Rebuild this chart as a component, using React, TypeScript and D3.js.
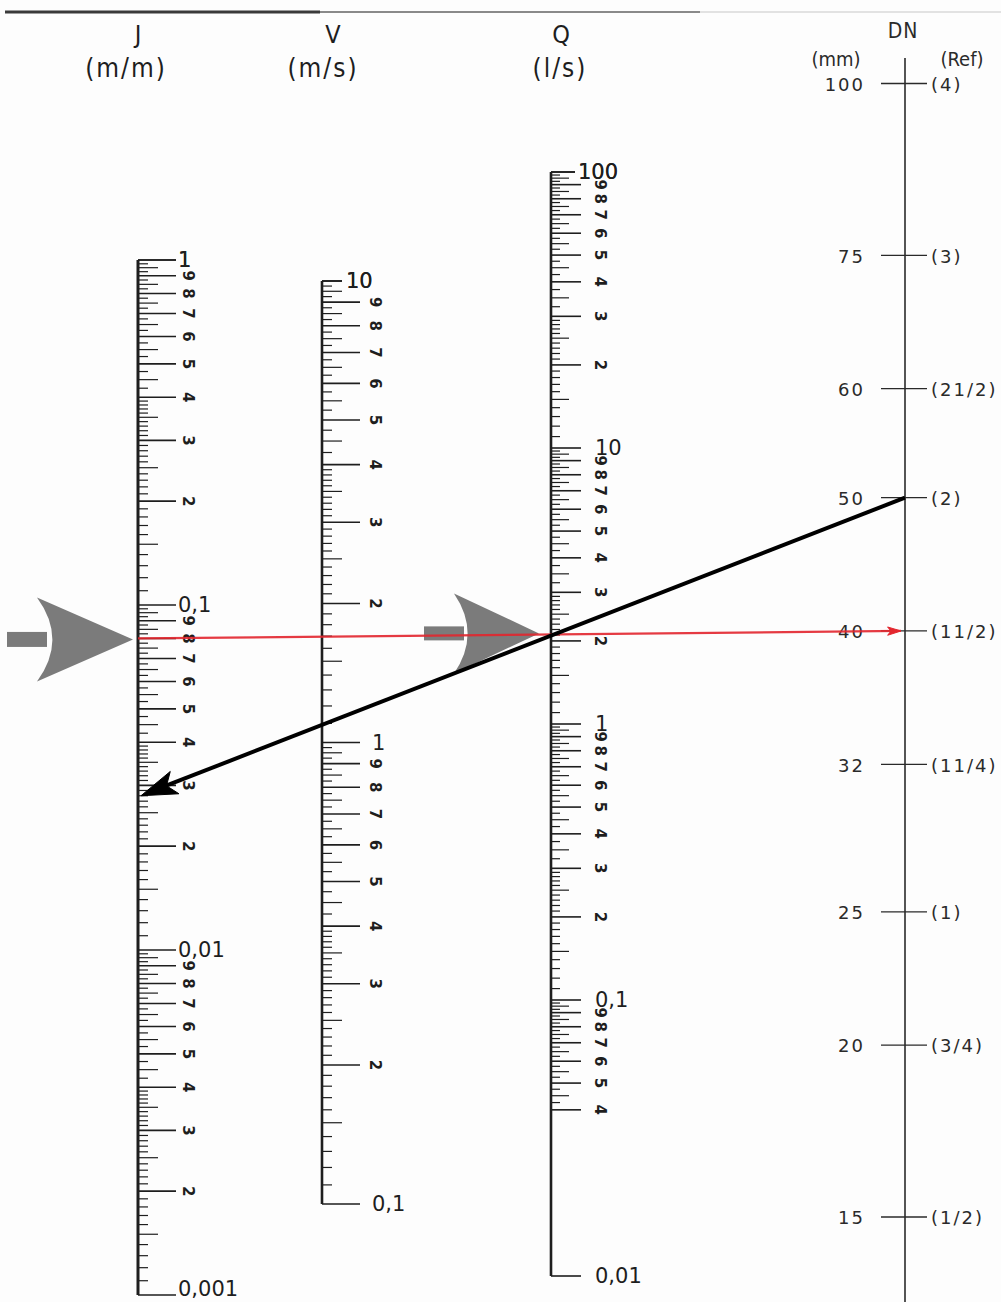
import React from "react";
import * as d3 from "d3";

const W = 1001;
const H = 1302;

// scale domains (top value first)
const J_DOMAIN = [1, 0.001];
const V_DOMAIN = [10, 0.1];
const Q_DOMAIN = [100, 0.01];
const Q_TICK_START = 0.04;

// mantissa steps inside each decade: [from, to, step]
const J_STEPS = [[1, 4, 0.1], [4, 10, 0.25]];
const V_STEPS = [[1, 4, 0.1], [4, 10, 0.25]];
const Q_STEPS = [[1, 3, 0.1], [3, 10, 0.25]];

// pipe diameter scale
const DN_MM = [100, 75, 60, 50, 40, 32, 25, 20, 15];
const DN_REF = ["(4)", "(3)", "(21/2)", "(2)", "(11/2)", "(11/4)", "(1)", "(3/4)", "(1/2)"];

// worked example: red = J 0,08 -> DN 40 ; black = DN 50 -> J 0,028
const EXAMPLE_J = [0.08, 0.028];
const EXAMPLE_DN = [40, 50];

const HEADERS = ["J", "V", "Q"];
const UNITS = ["(m/m)", "(m/s)", "(l/s)"];

const FONT_HEAD = "'Liberation Sans Narrow', 'DejaVu Sans Condensed', 'Roboto', sans-serif";
const FONT_NUM = "'DejaVu Sans', 'Open Sans', sans-serif";
const INK = "#1e1e1e";

// positions
const jX = 138;
const vX = 322;
const qX = 551;
const dnX = 905;

const jScale = d3.scaleLog().domain(J_DOMAIN).range([260, 1295]);
const vScale = d3.scaleLog().domain(V_DOMAIN).range([281, 1204]);
const qScale = d3.scaleLog().domain(Q_DOMAIN).range([172, 1276]);
const dnScale = d3.scaleLog().domain([100, 15]).range([83.5, 1217]);

type Tick = { v: number; m: number };

function buildTicks(lo: number, hi: number, steps: number[][]): Tick[] {
  const ms = new Set<number>();
  steps.forEach(([a, b, s]) => {
    for (let m = a; m < b - 1e-9; m += s) ms.add(Math.round(m * 100) / 100);
  });
  for (let k = 1; k < 10; k++) {
    ms.add(k);
    ms.add(k + 0.5);
  }
  const mant = Array.from(ms).sort((a, b) => a - b);
  const out: Tick[] = [];
  for (let e = Math.floor(Math.log10(lo) + 1e-9); Math.pow(10, e) < hi * 1.0001; e++) {
    const d = Math.pow(10, e);
    mant.forEach((m) => {
      const v = +(m * d).toPrecision(6);
      if (v >= lo * 0.9999 && v <= hi * 1.0001) out.push({ v, m });
    });
  }
  out.push({ v: hi, m: 1 });
  return out;
}

function decadeText(v: number) {
  return String(v).replace(".", ",");
}

type AxisProps = {
  x: number;
  scale: d3.ScaleLogarithmic<number, number>;
  ticks: Tick[];
  lens: { major: number; mid: number; minor: number };
  digitDx: number;
  decadeDx: number;
  topLen?: number;
  topDx?: number;
  width: number;
};

function LogAxis({ x, scale, ticks, lens, digitDx, decadeDx, topLen, topDx, width }: AxisProps) {
  const [top, bottom] = scale.range();
  const [topV, botV] = scale.domain();
  return (
    <g>
      <line x1={x} x2={x} y1={top} y2={bottom} stroke={INK} strokeWidth={width} />
      {ticks.map((t, i) => {
        const y = scale(t.v);
        const isTop = Math.abs(t.v - topV) < 1e-9;
        let len = lens.minor;
        if (Number.isInteger(t.m)) len = lens.major;
        else if (Number.isInteger(t.m * 2)) len = lens.mid;
        if (isTop && topLen) len = topLen;
        return (
          <line key={i} x1={x} x2={x + len} y1={y} y2={y} stroke={INK}
            strokeWidth={Number.isInteger(t.m) ? 1.6 : 1.2} />
        );
      })}
      {ticks.filter((t) => Number.isInteger(t.m)).map((t, i) => {
        const y = scale(t.v);
        if (t.m === 1) {
          const isTop = Math.abs(t.v - topV) < 1e-9;
          const isBottom = Math.abs(t.v - botV) < 1e-12 && y > H - 12;
          return (
            <text key={"d" + i} x={x + (isTop && topDx ? topDx : decadeDx)} y={isBottom ? H - 6 : y}
              dy={isBottom ? "0" : "0.35em"}
              fontFamily={FONT_NUM} fontSize={21} fill={INK}>
              {decadeText(t.v)}
            </text>
          );
        }
        return (
          <text key={"m" + i} transform={`translate(${x + digitDx},${y}) rotate(90)`}
            textAnchor="middle" dy="0.36em" fontFamily={FONT_NUM} fontSize={15}
            fontWeight="bold" fill={INK}>
            {t.m}
          </text>
        );
      })}
    </g>
  );
}

function GreyArrow({ tipX, tipY, head, half, shaftFrom, shaftTo, shaftH }:
  { tipX: number; tipY: number; head: number; half: number; shaftFrom: number; shaftTo: number; shaftH: number }) {
  const bx = tipX - head;
  const path = `M${tipX},${tipY} L${bx},${tipY - half} Q${bx + head * 0.32},${tipY} ${bx},${tipY + half} Z`;
  return (
    <g fill="#7b7b7b">
      <rect x={tipX - shaftFrom} y={tipY - shaftH / 2} width={shaftFrom - shaftTo} height={shaftH} />
      <path d={path} />
    </g>
  );
}

function ArrowHead({ x, y, fromX, fromY, len, color, spread }:
  { x: number; y: number; fromX: number; fromY: number; len: number; color: string; spread: number }) {
  const a = Math.atan2(fromY - y, fromX - x);
  const p1 = [x + len * Math.cos(a + spread), y + len * Math.sin(a + spread)];
  const p2 = [x + len * Math.cos(a - spread), y + len * Math.sin(a - spread)];
  const n = [x + len * 0.72 * Math.cos(a), y + len * 0.72 * Math.sin(a)];
  return (
    <path d={`M${x},${y} L${p1[0]},${p1[1]} L${n[0]},${n[1]} L${p2[0]},${p2[1]} Z`}
      fill={color} stroke={color} strokeWidth={1} strokeLinejoin="round" />
  );
}

export default function App() {
  const jTicks = buildTicks(J_DOMAIN[1], J_DOMAIN[0], J_STEPS);
  const vTicks = buildTicks(V_DOMAIN[1], V_DOMAIN[0], V_STEPS);
  const qTicks = buildTicks(Q_TICK_START, Q_DOMAIN[0], Q_STEPS);
  qTicks.push({ v: Q_DOMAIN[1], m: 1 });

  // example lines
  const redA = [jX, jScale(EXAMPLE_J[0])];
  const redB = [dnX - 4, dnScale(EXAMPLE_DN[0])];
  const blkA = [dnX, dnScale(EXAMPLE_DN[1])];
  const blkB = [jX + 3, jScale(EXAMPLE_J[1])];
  const redAtQ = redA[1] + (redB[1] - redA[1]) * ((qX - redA[0]) / (redB[0] - redA[0]));

  const axisXs = [jX, vX, qX];
  const headDx = [0, 11, 10];
  const unitDx = [-12, 1, 9];

  return (
    <svg width={W} height={H} style={{ position: "absolute", left: 0, top: 0, background: "#fdfdfd" }}>
      <rect width={W} height={H} fill="#fdfdfd" />
      {/* scan edge at top */}
      <line x1={5} x2={320} y1={12} y2={12} stroke="#3a3a3a" strokeWidth={3} />
      <line x1={320} x2={700} y1={12} y2={12} stroke="#8a8a8a" strokeWidth={2} />
      <line x1={700} x2={1001} y1={12} y2={12} stroke="#d8d8d8" strokeWidth={1.5} />

      {HEADERS.map((h, i) => (
        <g key={h} fill={INK} fontFamily={FONT_HEAD} textAnchor="middle" fontWeight={500}>
          <text x={axisXs[i] + headDx[i]} y={43} fontSize={25}>{h}</text>
          <text x={axisXs[i] + unitDx[i]} y={77} fontSize={26} letterSpacing={2}>{UNITS[i]}</text>
        </g>
      ))}

      <LogAxis x={jX} scale={jScale} ticks={jTicks} lens={{ major: 38, mid: 20, minor: 10 }}
        digitDx={50} decadeDx={40} width={3} />
      <LogAxis x={vX} scale={vScale} ticks={vTicks} lens={{ major: 38, mid: 20, minor: 10 }}
        digitDx={53} decadeDx={50} topLen={20} topDx={24} width={2.6} />
      <LogAxis x={qX} scale={qScale} ticks={qTicks} lens={{ major: 30, mid: 18, minor: 9 }}
        digitDx={49} decadeDx={44} topLen={24} topDx={27} width={2.6} />

      {/* DN scale */}
      <g fontFamily={FONT_NUM} fill="#2a2a2a">
        <text x={dnX - 2} y={38} fontSize={21} textAnchor="middle" fontFamily={FONT_HEAD} letterSpacing={1}>DN</text>
        <text x={dnX - 69} y={66} fontSize={20} textAnchor="middle" fontFamily={FONT_HEAD}>(mm)</text>
        <text x={dnX + 57} y={66} fontSize={20} textAnchor="middle" fontFamily={FONT_HEAD}>(Ref)</text>
        <line x1={dnX} x2={dnX} y1={58} y2={H} stroke="#2a2a2a" strokeWidth={1.6} />
        {DN_MM.map((d, i) => {
          const y = dnScale(d);
          return (
            <g key={d}>
              <line x1={dnX - 24} x2={dnX + 22} y1={y} y2={y} stroke="#2a2a2a" strokeWidth={1.3} />
              <text x={dnX - 40} y={y + 1} dy="0.35em" fontSize={18} textAnchor="end" letterSpacing={2}>{d}</text>
              <text x={dnX + 26} y={y + 1} dy="0.35em" fontSize={18} letterSpacing={2}>{DN_REF[i]}</text>
            </g>
          );
        })}
      </g>

      {/* grey pointer arrows */}
      <GreyArrow tipX={jX - 5} tipY={redA[1] + 1} head={96} half={42} shaftFrom={126} shaftTo={86} shaftH={15} />
      <GreyArrow tipX={qX - 12} tipY={redAtQ - 1} head={85} half={40} shaftFrom={115} shaftTo={75} shaftH={14} />

      {/* red example line */}
      <line x1={redA[0]} y1={redA[1]} x2={redB[0]} y2={redB[1]} stroke="#e3262e" strokeWidth={2.2} opacity={0.9} />
      <ArrowHead x={redB[0]} y={redB[1]} fromX={redA[0]} fromY={redA[1]} len={14} color="#e3262e" spread={0.3} />

      {/* black example line */}
      <line x1={blkA[0]} y1={blkA[1]} x2={blkB[0] + 20} y2={blkB[1] - 8} stroke="#000" strokeWidth={4} />
      <ArrowHead x={blkB[0]} y={blkB[1]} fromX={blkA[0]} fromY={blkA[1]} len={38} color="#000" spread={0.32} />
    </svg>
  );
}
